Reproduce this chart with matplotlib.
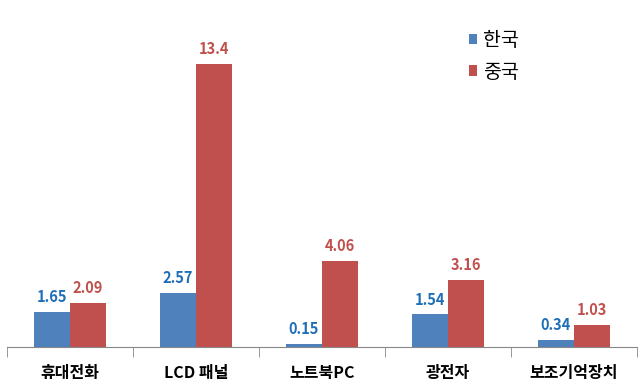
import numpy as np
import matplotlib.pyplot as plt

plt.rcParams['font.family'] = ['Noto Sans CJK KR', 'DejaVu Sans']

# data
categories = ['휴대전화', 'LCD 패널', '노트북PC', '광전자', '보조기억장치']
korea = [1.65, 2.57, 0.15, 1.54, 0.34]
china = [2.09, 13.4, 4.06, 3.16, 1.03]
korea_lbl = ['1.65', '2.57', '0.15', '1.54', '0.34']
china_lbl = ['2.09', '13.4', '4.06', '3.16', '1.03']

blue = '#4F81BD'; red = '#C0504D'
blue_txt = '#1F6EB8'; red_txt = '#C0504D'

fig = plt.figure(figsize=(6.41, 3.9), dpi=100)
ax = fig.add_axes([7/641, 1-347/390, 630/641, 338/390])

x = np.arange(len(categories))
w = 0.286
b1 = ax.bar(x - w/2, korea, w, color=blue, label='한국')
b2 = ax.bar(x + w/2, china, w, color=red, label='중국')

for bars, lbls, col in ((b1, korea_lbl, blue_txt), (b2, china_lbl, red_txt)):
    for r, t in zip(bars, lbls):
        ax.annotate(t, (r.get_x() + r.get_width()/2, r.get_height()),
                    xytext=(0, 5), textcoords='offset points',
                    ha='center', va='bottom', color=col,
                    fontsize=10.5, fontweight='bold')

ax.set_xlim(-0.5, 4.5)
ax.set_ylim(0, 16)
ax.set_yticks([])
for s in ('left', 'right', 'top'):
    ax.spines[s].set_visible(False)
ax.spines['bottom'].set_color('#888888')

ax.set_xticks(x)
ax.set_xticklabels(categories, fontsize=11.5, fontweight='bold')
ax.tick_params(axis='x', which='major', length=0, pad=13)
ax.set_xticks(np.arange(-0.5, 5, 1), minor=True)
ax.tick_params(axis='x', which='minor', length=7, color='#888888')

leg = ax.legend(loc='upper left', bbox_to_anchor=(0.705, 0.99), frameon=False,
                fontsize=14, handlelength=0.45, handleheight=0.45,
                handletextpad=0.3, labelspacing=0.55)

fig.savefig('out.png', dpi=100)
